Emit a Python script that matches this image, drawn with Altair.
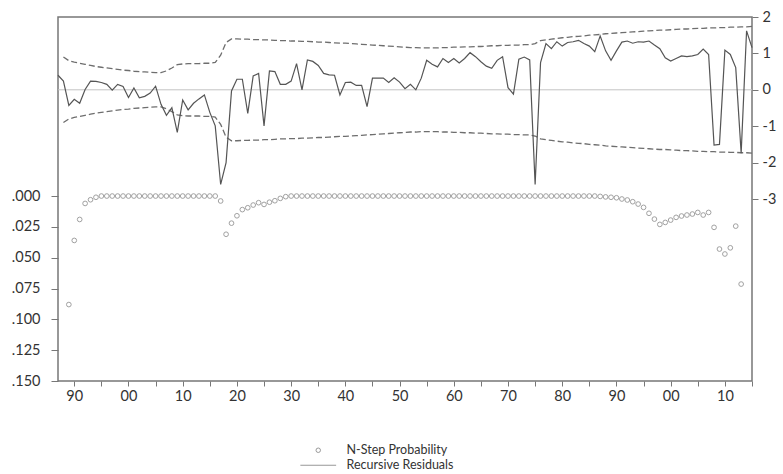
import altair as alt
import pandas as pd

years = list(range(1887, 2016))

resid = [0.40, 0.24, -0.43, -0.26, -0.37, 0.01, 0.24, 0.23, 0.20, 0.15,
         -0.01, 0.15, 0.09, -0.21, 0.05, -0.22, -0.18, -0.09, 0.10, -0.40,
         -0.70, -0.49, -1.17, -0.28, -0.55, -0.37, -0.25, -0.14, -0.62, -0.99,
         -2.60, -2.00, -0.03, 0.29, 0.29, -0.65, 0.38, 0.45, -0.99, 0.52,
         0.50, 0.15, 0.15, 0.24, 0.72, 0.00, 0.82, 0.78, 0.67, 0.45,
         0.41, 0.40, -0.14, 0.20, 0.21, 0.12, 0.12, -0.46, 0.32, 0.32,
         0.32, 0.20, 0.33, 0.21, 0.03, 0.15, 0.00, 0.32, 0.81, 0.70,
         0.63, 0.86, 0.75, 0.86, 0.74, 0.86, 1.02, 0.91, 0.77, 0.65,
         0.59, 0.81, 0.91, 0.06, -0.12, 0.84, 0.90, 0.82, -2.60, 0.75,
         1.27, 1.13, 1.32, 1.20, 1.30, 1.32, 1.36, 1.27, 1.20, 1.05,
         1.48, 1.07, 0.81, 1.07, 1.31, 1.34, 1.28, 1.32, 1.31, 1.34,
         1.23, 1.13, 0.88, 0.79, 0.86, 0.93, 0.91, 0.93, 0.97, 1.12,
         0.97, -1.52, -1.50, 1.09, 0.97, 0.61, -1.74, 1.62, 1.16]

band = [None,
        0.90, 0.80, 0.76, 0.73, 0.70, 0.67, 0.64, 0.62, 0.60, 0.58,
        0.56, 0.54, 0.53, 0.51, 0.50, 0.49, 0.48, 0.47, 0.47, 0.52,
        0.60, 0.69, 0.71, 0.72, 0.72, 0.72, 0.73, 0.73, 0.75, 0.95,
        1.30, 1.40, 1.40, 1.39, 1.39, 1.38, 1.38, 1.37, 1.37, 1.36,
        1.35, 1.35, 1.34, 1.34, 1.33, 1.33, 1.32, 1.31, 1.31, 1.30,
        1.29, 1.28, 1.28, 1.27, 1.26, 1.25, 1.24, 1.23, 1.22, 1.21,
        1.20, 1.19, 1.18, 1.17, 1.16, 1.16, 1.15, 1.15, 1.15, 1.15,
        1.16, 1.16, 1.17, 1.17, 1.18, 1.18, 1.19, 1.19, 1.20, 1.21,
        1.21, 1.22, 1.22, 1.23, 1.23, 1.24, 1.24, 1.27, 1.35, 1.37,
        1.39, 1.41, 1.43, 1.44, 1.46, 1.47, 1.48, 1.50, 1.51, 1.52,
        1.54, 1.55, 1.56, 1.57, 1.58, 1.59, 1.60, 1.61, 1.62, 1.63,
        1.64, 1.64, 1.65, 1.66, 1.67, 1.67, 1.68, 1.69, 1.69, 1.70,
        1.70, 1.71, 1.71, 1.72, 1.72, 1.73, 1.73, 1.74]

prob = [None, None, 0.088, 0.036, 0.019, 0.006, 0.003, 0.001,
        0.0, 0.0, 0.0, 0.0, 0.0, 0.0, 0.0, 0.0, 0.0, 0.0, 0.0,
        0.0, 0.0, 0.0, 0.0, 0.0, 0.0, 0.0, 0.0, 0.0, 0.0, 0.0,
        0.004, 0.031, 0.022, 0.016, 0.011, 0.0095, 0.0073, 0.0054, 0.0068,
        0.005, 0.0038, 0.0019, 0.0005,
        0.0, 0.0, 0.0, 0.0, 0.0, 0.0, 0.0, 0.0, 0.0, 0.0,
        0.0, 0.0, 0.0, 0.0, 0.0, 0.0, 0.0, 0.0, 0.0, 0.0,
        0.0, 0.0, 0.0, 0.0, 0.0, 0.0, 0.0, 0.0, 0.0, 0.0,
        0.0, 0.0, 0.0, 0.0, 0.0, 0.0, 0.0, 0.0, 0.0, 0.0,
        0.0, 0.0, 0.0, 0.0, 0.0, 0.0, 0.0, 0.0, 0.0, 0.0,
        0.0, 0.0, 0.0, 0.0, 0.0, 0.0, 0.0,
        0.0003, 0.0007, 0.001, 0.0014, 0.0024, 0.0032, 0.0046, 0.0065,
        0.0092, 0.014, 0.0187, 0.023, 0.0214, 0.0195, 0.0173, 0.0162,
        0.0154, 0.0146, 0.0133, 0.0154, 0.0133, 0.0254, 0.043, 0.047,
        0.042, 0.0244, 0.0714, None, None]

series_names = ["N-Step Probability", "Recursive Residuals"]
x_ticks = [1890, 1895, 1900, 1905, 1910, 1915, 1920, 1925, 1930, 1935,
           1940, 1945, 1950, 1955, 1960, 1965, 1970, 1975, 1980, 1985,
           1990, 1995, 2000, 2005, 2010, 2015]
prob_ticks = [0.0, 0.025, 0.05, 0.075, 0.1, 0.125, 0.15]
resid_ticks = [-3, -2, -1, 0, 1, 2]

df = pd.DataFrame({"year": years, "resid": resid, "band": band, "prob": prob})
df["lower"] = -df["band"]

FONT = "Lato"
TXT = "#333333"
LINE = "#555555"
DASH = "#6e6e6e"

x_enc = alt.X(
    "year:Q",
    scale=alt.Scale(domain=[1887, 2015], nice=False, zero=False),
    axis=alt.Axis(values=x_ticks, grid=False, domain=False, tickSize=5,
                  tickColor="#777777", labelPadding=3,
                  labelExpr="datum.value % 10 == 0 ? substring(toString(datum.value), 2) : ''",
                  labelFlush=False, labelOverlap=False),
    title=None,
)

res_scale = alt.Scale(domain=[-8, 2], nice=False, zero=False)
res_axis = alt.Axis(orient="right", values=resid_ticks, grid=False, domain=False,
                    tickSize=6, tickColor="#777777", labelPadding=4,
                    labelExpr="toString(datum.value)")

base = alt.Chart(df)

zero = alt.Chart(pd.DataFrame({"resid": [0]})).mark_rule(
    color="#c4c4c4", strokeWidth=1
).encode(y=alt.Y("resid:Q", scale=res_scale, axis=res_axis, title=None))

upper = base.mark_line(color=DASH, strokeDash=[6, 3], strokeWidth=1.3).encode(
    x=x_enc, y=alt.Y("band:Q", scale=res_scale, axis=res_axis, title=None)
).transform_filter("isValid(datum.band)")

lower = base.mark_line(color=DASH, strokeDash=[6, 3], strokeWidth=1.3).encode(
    x=x_enc, y=alt.Y("lower:Q", scale=res_scale, axis=res_axis, title=None)
).transform_filter("isValid(datum.band)")

line = base.mark_line(color=LINE, strokeWidth=1.2).encode(
    x=x_enc, y=alt.Y("resid:Q", scale=res_scale, axis=res_axis, title=None)
)

res_layer = alt.layer(zero, upper, lower, line)

points = base.transform_filter("isValid(datum.prob)").transform_calculate(
    lab="'N-Step Probability'"
).mark_point(filled=False, size=22, color="#7a7a7a", strokeWidth=1).encode(
    x=x_enc,
    y=alt.Y("prob:Q",
            scale=alt.Scale(domain=[-0.1452, 0.15], reverse=True, nice=False, zero=False),
            axis=alt.Axis(orient="left", values=prob_ticks, grid=False, domain=False,
                          tickSize=7, tickColor="#777777", labelPadding=11,
                          labelExpr="substring(format(datum.value, '.3f'), 1)"),
            title=None),
    shape=alt.Shape(
        "lab:N",
        scale=alt.Scale(domain=series_names, range=["circle", "M-8,0H8"]),
        legend=alt.Legend(orient="none", legendX=254, legendY=427, title=None,
                          symbolSize=20, symbolStrokeColor="#6e6e6e",
                          symbolFillColor="transparent", symbolStrokeWidth=1,
                          labelOffset=22, labelFontSize=12.5, labelFont=FONT,
                          labelColor=TXT, rowPadding=2),
    ),
)

chart = alt.layer(points, res_layer).resolve_scale(y="independent").properties(
    width=694, height=364,
    background="white",
    autosize=alt.AutoSizeParams(type="none"),
    padding={"left": 58, "top": 17, "right": 31, "bottom": 93},
).configure_view(stroke="#777777", strokeWidth=1.5).configure_axis(
    labelFont=FONT, labelFontSize=14.5, labelColor=TXT
)

chart.save("out.html", embed_options={"renderer": "svg", "actions": False})
